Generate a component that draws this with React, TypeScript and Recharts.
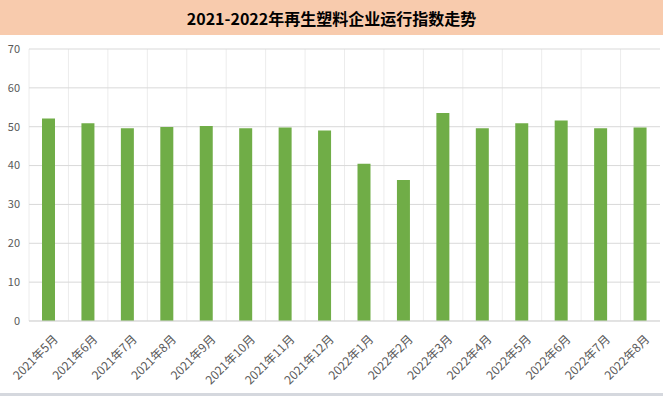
import { BarChart, Bar, XAxis, YAxis, CartesianGrid } from "recharts";

const months = [
  "2021年5月", "2021年6月", "2021年7月", "2021年8月", "2021年9月", "2021年10月",
  "2021年11月", "2021年12月", "2022年1月", "2022年2月", "2022年3月", "2022年4月",
  "2022年5月", "2022年6月", "2022年7月", "2022年8月",
];
const indexValues = [
  52.1, 50.9, 49.6, 49.9, 50.2, 49.6, 49.8, 49.0, 40.5, 36.3, 53.5, 49.6, 50.9,
  51.6, 49.6, 49.8,
];
const yTicks = [0, 10, 20, 30, 40, 50, 60, 70];

const data = months.map((m, i) => ({ month: m, value: indexValues[i] }));

const MonthTick = ({ x, y, payload }: any) => (
  <g transform={`translate(${x + 4},${y + 5}) rotate(-45)`}>
    <text
      x={0}
      y={0}
      dy="0.71em"
      textAnchor="end"
      fill="#595959"
      fontSize={12}
      fontFamily="'Noto Sans CJK SC', sans-serif"
    >
      {payload.value}
    </text>
  </g>
);

export default function App() {
  return (
    <div
      style={{
        position: "absolute",
        left: 0,
        top: 0,
        width: 663,
        height: 396,
        background: "#fff",
        fontFamily: "'Noto Sans CJK SC', sans-serif",
      }}
    >
      <div
        style={{
          height: 35,
          background: "#F8CBAD",
          display: "flex",
          alignItems: "center",
          justifyContent: "center",
          fontSize: 16,
          fontWeight: "bold",
          color: "#000",
        }}
      >
        2021-2022年再生塑料企业运行指数走势
      </div>
      <BarChart
        width={663}
        height={358}
        data={data}
        margin={{ top: 14, right: 3, left: 0, bottom: 0 }}
        barSize={13}
      >
        <CartesianGrid
          stroke="#ececec"
          horizontal={false}
          verticalCoordinatesGenerator={({ offset }: any) =>
            months.map((_, i) => offset.left + (i * offset.width) / months.length)
          }
        />
        <CartesianGrid stroke="#d9d9d9" vertical={false} />
        <XAxis
          dataKey="month"
          interval={0}
          height={72}
          tick={<MonthTick />}
          tickLine={false}
          axisLine={{ stroke: "#d9d9d9" }}
        />
        <YAxis
          domain={[0, 70]}
          ticks={yTicks}
          width={29}
          tickSize={0}
          tickMargin={9}
          axisLine={false}
          tickLine={false}
          tick={{ fill: "#595959", fontSize: 11, fontFamily: "'Noto Sans CJK SC', sans-serif" }}
        />
        <Bar dataKey="value" fill="#70AD47" isAnimationActive={false} />
      </BarChart>
      <div style={{ position: "absolute", left: 0, bottom: 0, width: 663, height: 3, background: "#d5d8de" }} />
    </div>
  );
}
